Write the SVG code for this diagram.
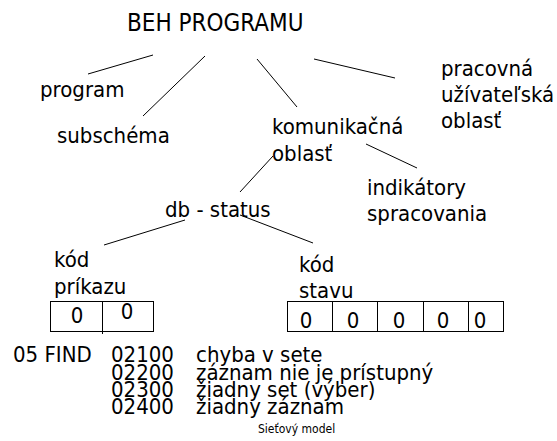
<svg xmlns="http://www.w3.org/2000/svg" width="557" height="441" viewBox="0 0 557 441">
  <style>
    text { font-family: "DejaVu Sans Condensed", "DejaVu Sans", sans-serif; fill: #000; }
    .title { font-size: 24px; }
    .lbl { font-size: 22px; }
    .cap { font-size: 12px; }
    .mid { text-anchor: middle; }
    .conn line { stroke: #000; stroke-width: 1; }
    .cell { fill: #fff; stroke: #000; stroke-width: 1; }
  </style>
  <rect width="557" height="441" fill="#fff"/>

  <!-- connectors -->
  <g id="connectors" class="conn">
    <line x1="88" y1="74" x2="153" y2="55"/>
    <line x1="143" y1="116" x2="205" y2="56"/>
    <line x1="257" y1="59" x2="297" y2="107"/>
    <line x1="314" y1="59" x2="395" y2="78"/>
    <line x1="366" y1="144" x2="417" y2="168"/>
    <line x1="273" y1="156" x2="240" y2="192"/>
    <line x1="104" y1="245" x2="185" y2="220"/>
    <line x1="240" y1="215" x2="313" y2="243"/>
  </g>

  <g id="beh-programu"><text class="title" x="127" y="31">BEH PROGRAMU</text></g>
  <g id="program"><text class="lbl" x="40" y="97">program</text></g>
  <g id="subschema"><text class="lbl" x="57" y="143">subschéma</text></g>
  <g id="komunikacna-oblast">
    <text class="lbl" x="272" y="134">komunikačná</text>
    <text class="lbl" x="272" y="161">oblasť</text>
  </g>
  <g id="pracovna-oblast">
    <text class="lbl" x="441" y="76">pracovná</text>
    <text class="lbl" x="441" y="102">užívateľská</text>
    <text class="lbl" x="441" y="128">oblasť</text>
  </g>
  <g id="indikatory">
    <text class="lbl" x="367" y="195">indikátory</text>
    <text class="lbl" x="367" y="221">spracovania</text>
  </g>
  <g id="db-status"><text class="lbl" x="165" y="217">db - status</text></g>

  <g id="kod-prikazu">
    <text class="lbl" x="54" y="267">kód</text>
    <text class="lbl" x="54" y="294">príkazu</text>
    <rect class="cell" x="50.5" y="301.5" width="103" height="30"/>
    <line x1="102.5" y1="301" x2="102.5" y2="334" stroke="#000"/>
    <text class="lbl mid" x="77" y="323">0</text>
    <text class="lbl mid" x="127" y="319">0</text>
  </g>

  <g id="kod-stavu">
    <text class="lbl" x="299" y="272">kód</text>
    <text class="lbl" x="299" y="298">stavu</text>
    <rect class="cell" x="287.5" y="301.5" width="216" height="30"/>
    <line x1="332.5" y1="301" x2="332.5" y2="332" stroke="#000"/>
    <line x1="377.5" y1="301" x2="377.5" y2="332" stroke="#000"/>
    <line x1="423.5" y1="301" x2="423.5" y2="332" stroke="#000"/>
    <line x1="468.5" y1="301" x2="468.5" y2="332" stroke="#000"/>
    <text class="lbl mid" x="306" y="328">0</text>
    <text class="lbl mid" x="353" y="328">0</text>
    <text class="lbl mid" x="399" y="328">0</text>
    <text class="lbl mid" x="443" y="328">0</text>
    <text class="lbl mid" x="480" y="328">0</text>
  </g>

  <g id="chybove-kody">
    <text class="lbl" x="13" y="362">05 FIND</text>
    <text class="lbl" x="111" y="362">02100</text>
    <text class="lbl" x="196" y="362">chyba v sete</text>
    <text class="lbl" x="111" y="380">02200</text>
    <text class="lbl" x="196" y="380">záznam nie je prístupný</text>
    <text class="lbl" x="111" y="397">02300</text>
    <text class="lbl" x="196" y="397">žiadny set (výber)</text>
    <text class="lbl" x="111" y="414">02400</text>
    <text class="lbl" x="196" y="414">žiadny záznam</text>
  </g>

  <g id="caption"><text class="cap" x="258" y="433">Sieťový model</text></g>
</svg>
